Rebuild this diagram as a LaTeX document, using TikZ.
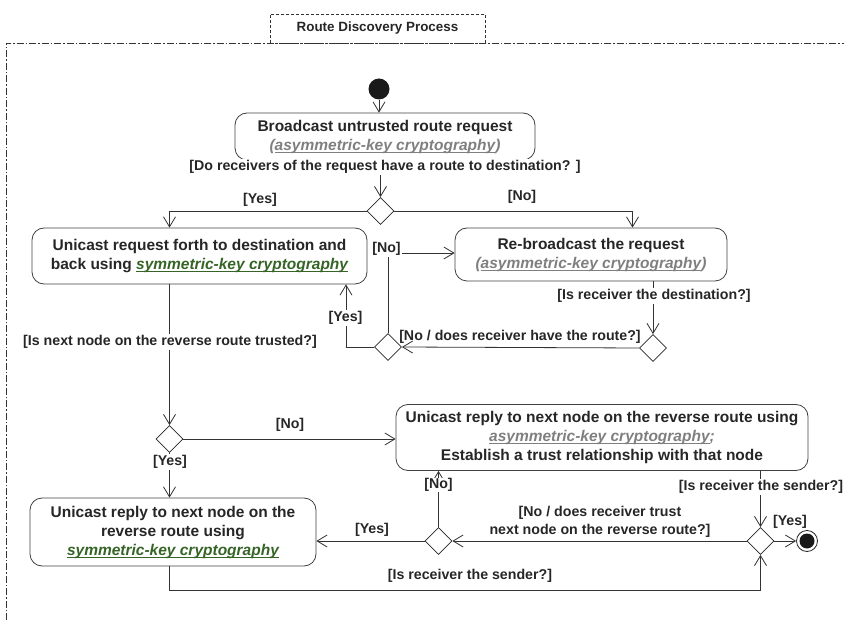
\documentclass[tikz,border=0pt]{standalone}
\usepackage{fontspec}
\setmainfont{Liberation Sans}
\usetikzlibrary{arrows.meta,shapes.geometric,calc}
\definecolor{asymgray}{HTML}{7F7F7F}
\definecolor{symgreen}{HTML}{356426}
\definecolor{framegray}{HTML}{333333}
% underline drawn at a fixed depth below the baseline
\newcommand{\ulined}[1]{{\setbox0\hbox{#1}\rlap{\raisebox{-2.4pt}{\rule{\wd0}{0.9pt}}}\box0}}
\newcommand{\asym}[1]{{\color{asymgray}\itshape\ulined{#1}}}
\newcommand{\symk}[1]{{\color{symgreen}\itshape\ulined{#1}}}
\begin{document}
\begin{tikzpicture}[x=1pt,y=-1pt,
  font=\fontsize{14.2}{18}\selectfont\bfseries,
  every node/.style={text=black!85},
  action/.style={draw=black!75, rounded corners=12pt, align=center, inner sep=2pt, line width=0.8pt,
    font=\fontsize{15.5}{19}\selectfont\bfseries},
  choice/.style={draw=black!85, diamond, aspect=1, minimum width=27pt, minimum height=27pt, inner sep=0pt, line width=0.8pt},
  flow/.style={draw=black!80, line width=0.8pt, -{Straight Barb[length=10pt,width=12pt,line width=0.8pt]}},
  guard/.style={fill=white, inner sep=1pt, align=center},
  bare/.style={inner sep=1pt, align=center}]
\useasboundingbox (0,0) rectangle (844,620);

% activity frame and its title tab
\draw[framegray, line width=0.8pt, dash pattern=on 7pt off 2pt on 1.5pt off 2pt] (6,620) -- (6,43) -- (850,43);
\node[draw=framegray, densely dashed, line width=0.6pt, minimum width=215pt, minimum height=29pt, inner sep=0pt,
  font=\fontsize{13.4}{16}\selectfont\bfseries] (title) at (377.5,28.5) {Route Discovery Process};

% initial and final nodes
\node[circle, fill=black!90, minimum width=19pt, minimum height=21pt, inner sep=0pt] (start) at (379,89) {};
\node[circle, draw=black!85, line width=0.8pt, minimum size=21pt, inner sep=0pt] (end) at (807,541) {};
\fill[black!90] (end) circle (7.5pt);

% actions
\node[action, minimum width=300pt, minimum height=47pt] (box1) at (385,136.5)
  {Broadcast untrusted route request\\{\color{asymgray}\itshape(\asym{asymmetric-key cryptography})}};
\node[action, minimum width=335pt, minimum height=56pt] (box2) at (199.5,256)
  {Unicast request forth to destination and\\back using \symk{symmetric-key cryptography}};
\node[action, minimum width=272pt, minimum height=53pt] (box3) at (591,254.5)
  {Re-broadcast the request\\{\color{asymgray}\itshape(\asym{asymmetric-key cryptography})}};
\node[action, minimum width=412pt, minimum height=66pt] (box4) at (602,437.5)
  {Unicast reply to next node on the reverse route using\\\asym{asymmetric-key cryptography}{\color{asymgray}\itshape;}\\Establish a trust relationship with that node};
\node[action, minimum width=286pt, minimum height=68pt] (box5) at (173,532)
  {Unicast reply to next node on the\\reverse route using\\\symk{symmetric-key cryptography}};

% decisions
\node[choice] (d1) at (380.5,211) {};
\node[choice] (d2) at (653,348) {};
\node[choice] (d3) at (388,347) {};
\node[choice] (d4) at (169.5,439) {};
\node[choice] (d5) at (760.5,541) {};
\node[choice] (d6) at (438.5,541) {};

% control flows
\draw[flow] (start) -- (start |- box1.north);
\draw[flow] (box1.south -| d1) -- (d1.north);
\node[guard] (g1) at (385,167) {[Do receivers of the request have a route to destination? ]};

\draw[flow] (d1.west) -| (d4 |- box2.north);
\node[bare] (g2) at (260,200) {[Yes]};
\draw[flow] (d1.east) -| ([xshift=41.5pt]box3.north);
\node[bare] (g3) at (522,197) {[No]};

\draw[flow] (box3.south -| d2) -- (d2.north);
\node[guard] (g4) at (654,296) {[Is receiver the destination?]};

\draw[flow] (d2.west) -- (d3.east);
\node[bare] (g5) at (520,337) {[No / does receiver have the route?]};

\draw[flow] (d3.north) |- ([yshift=1.5pt]box3.west);
\node[guard] (g6) at (386.5,249) {[No]};

\draw[flow] (d3.west) -| ([xshift=146.5pt]box2.south);
\node[guard] (g7) at (345.5,318) {[Yes]};

\draw[flow] (box2.south -| d4) -- (d4.north);
\node[guard] (g8) at (170,342) {[Is next node on the reverse route trusted?]};

\draw[flow] (d4.east) -- (d4 -| box4.west);
\node[bare] (g9) at (290,425) {[No]};

\draw[flow] (d4.south) -- (d4 |- box5.north);
\node[guard] (g10) at (170,462) {[Yes]};

\draw[flow] (box4.south -| d5) -- (d5.north);
\node[guard] (g11) at (761,487) {[Is receiver the sender?]};

\draw[flow] (d5.east) -- (end);
\node[bare] (g12) at (790,522) {[Yes]};

\draw[flow] (d5.west) -- (d6.east);
\node[bare] (g13) at (600,522) {[No / does receiver trust\\next node on the reverse route?]};

\draw[flow] (d6.north) -- (d6 |- box4.south);
\node[guard, inner sep=0pt] (g14) at (438.5,485) {[No]};

\draw[flow] (d6.west) -- (d6 -| box5.east);
\node[bare] (g15) at (372,530) {[Yes]};

\draw[flow] (box5.south -| d4) -- ++(0,24) -| (d5.south);
\node[bare] (g16) at (470,576) {[Is receiver the sender?]};
\end{tikzpicture}
\end{document}
